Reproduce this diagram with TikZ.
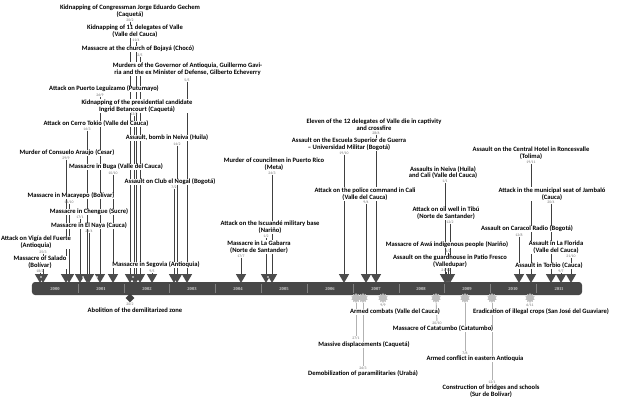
\documentclass[tikz,border=0pt]{standalone}
\usepackage{fontspec}
\setmainfont{Carlito}
\newfontfamily\yearserif{Liberation Serif}
\usetikzlibrary{shapes.geometric,backgrounds}
\newcommand{\evfont}{\fontsize{6.6}{6.9}\selectfont\bfseries}
\newcommand{\dayfont}{\fontsize{3.8}{3.8}\selectfont}
\newcommand{\yearfont}{\yearserif\fontsize{4.6}{5}\selectfont\bfseries}

\begin{document}
\begin{tikzpicture}
                                [
                                    x=1bp, y=-1bp,
                                    lbl/.style = {font=\evfont, align=center, fill=white, inner sep=0.4bp, text=black},
                                    day/.style = {font=\dayfont, text=black!55, inner sep=0.3bp},
                                    drop/.style = {regular polygon, regular polygon sides=3, shape border rotate=180, fill=black!70, inner sep=0pt, minimum size=12bp},
                                    splash/.style = {star, star points=10, star point ratio=1.5, fill=black!25, inner sep=0pt, minimum size=10bp},
                                    cut/.style = {diamond, fill=black!75, inner sep=0pt, minimum size=9bp},
                                    stem/.style = {draw=black!75, line width=0.6bp},
                                    faint/.style = {draw=black!30, line width=0.9bp},
                                    axis/.style = {fill=black!72, rounded corners=3bp, minimum width=550bp, minimum height=13bp, inner sep=0pt},
                                    year/.style = {font=\yearfont, text=black!20, inner sep=0pt},
                                ]

                                \useasboundingbox (0,0) rectangle (624,402);

                                \node[axis] (bar) at (307,288.5) {};
                                \draw[black!50, line width=0.4bp] (77.8,284) -- (77.8,293);
                                \draw[black!50, line width=0.4bp] (123.7,284) -- (123.7,293);
                                \draw[black!50, line width=0.4bp] (169.5,284) -- (169.5,293);
                                \draw[black!50, line width=0.4bp] (215.3,284) -- (215.3,293);
                                \draw[black!50, line width=0.4bp] (261.2,284) -- (261.2,293);
                                \draw[black!50, line width=0.4bp] (307,284) -- (307,293);
                                \draw[black!50, line width=0.4bp] (352.8,284) -- (352.8,293);
                                \draw[black!50, line width=0.4bp] (398.7,284) -- (398.7,293);
                                \draw[black!50, line width=0.4bp] (444.5,284) -- (444.5,293);
                                \draw[black!50, line width=0.4bp] (490.3,284) -- (490.3,293);
                                \draw[black!50, line width=0.4bp] (536.2,284) -- (536.2,293);

                                \node[year] (y00) at (55,289) {2000};
                                \node[year] (y01) at (101,289) {2001};
                                \node[year] (y02) at (147,289) {2002};
                                \node[year] (y03) at (192,289) {2003};
                                \node[year] (y04) at (238,289) {2004};
                                \node[year] (y05) at (284,289) {2005};
                                \node[year] (y06) at (330,289) {2006};
                                \node[year] (y07) at (376,289) {2007};
                                \node[year] (y08) at (421,289) {2008};
                                \node[year] (y09) at (467,289) {2009};
                                \node[year] (y10) at (513,289) {2010};
                                \node[year] (y11) at (559,289) {2011};

                                % above the line
                                \node[lbl] (gechemL) at (130,11) {Kidnapping of Congressman Jorge Eduardo Gechem\\(Caquetá)};
                                \node[day] (gechemD) at (130,20) {20/2};
                                \node[lbl] (valleL) at (135,31.5) {Kidnapping of 11 delegates of Valle\\(Valle del Cauca)};
                                \node[day] (valleD) at (136,40) {11/4};
                                \node[lbl] (bojayaL) at (138,49) {Massacre at the church of Bojayá (Chocó)};
                                \node[day] (bojayaD) at (140,55) {2/5};
                                \node[lbl] (gaviriaL) at (187.5,69) {Murders of the Governor of Antioquia, Guillermo Gavi-\\ria and the ex Minister of Defense, Gilberto Echeverry};
                                \node[day] (gaviriaD) at (187,80) {5/5};
                                \node[lbl] (leguizamoL) at (104,89) {Attack on Puerto Leguizamo (Putumayo)};
                                \node[day] (leguizamoD) at (100,95) {26/9};
                                \node[lbl] (ingridL) at (137,106) {Kidnapping of the presidential candidate\\Ingrid Betancourt (Caquetá)};
                                \node[day] (ingridD) at (134,114) {23/2};
                                \node[lbl] (tokioL) at (96,124) {Attack on Cerro Tokio (Valle del Cauca)};
                                \node[day] (tokioD) at (87,129) {16/3};
                                \node[lbl] (neivaL) at (167,138) {Assault, bomb in Neiva (Huila)};
                                \node[day] (neivaD) at (177,144) {14/2};
                                \node[lbl] (araujoL) at (67,153) {Murder of Consuelo Araujo (Cesar)};
                                \node[day] (araujoD) at (66,158) {29/9};
                                \node[lbl] (bugaL) at (116,167) {Massacre in Buga (Valle del Cauca)};
                                \node[day] (bugaD) at (113,173) {10/10};
                                \node[lbl] (nogalL) at (170,182) {Assault on Club el Nogal (Bogotá)};
                                \node[day] (nogalD) at (174,187) {7/2};
                                \node[lbl] (macayepoL) at (71,196) {Massacre in Macayepo (Bolívar)};
                                \node[day] (macayepoD) at (69,202) {14/10};
                                \node[lbl] (chengueL) at (89,212) {Massacre in Chengue (Sucre)};
                                \node[day] (chengueD) at (80,217) {17/1};
                                \node[lbl] (nayaL) at (89,226) {Massacre in El Naya (Cauca)};
                                \node[day] (nayaD) at (89,231) {24/4};
                                \node[lbl] (vigiaL) at (36,242.5) {Attack on Vigía del Fuerte\\(Antioquia)};
                                \node[day] (vigiaD) at (43,252) {25/3};
                                \node[lbl] (saladoL) at (40,262.5) {Massacre of Salado\\(Bolívar)};
                                \node[day] (saladoD) at (40,271) {18/2};
                                \node[lbl] (segoviaL) at (156,265) {Massacre in Segovia (Antioquia)};
                                \node[day] (segoviaD) at (152,271) {9/5};

                                \node[lbl] (elevenL) at (374,125) {Eleven of the 12 delegates of Valle die in captivity\\and crossfire};
                                \node[day] (elevenD) at (376,133) {28/6};
                                \node[lbl] (guerraL) at (349,144.5) {Assault on the Escuela Superior de Guerra\\-- Universidad Militar (Bogotá)};
                                \node[day] (guerraD) at (344,153) {19/10};
                                \node[lbl] (ricoL) at (274,164.5) {Murder of councilmen in Puerto Rico\\(Meta)};
                                \node[day] (ricoD) at (272,173) {24/3};
                                \node[lbl] (caliL) at (365,194) {Attack on the police command in Cali\\(Valle del Cauca)};
                                \node[day] (caliD) at (366,202) {9/4};
                                \node[lbl] (iscuandeL) at (270,227.5) {Attack on the Iscuandé military base\\(Nariño)};
                                \node[day] (iscuandeD) at (266,236) {1/2};
                                \node[lbl] (gabarraL) at (259,247) {Massacre in La Gabarra\\(Norte de Santander)};
                                \node[day] (gabarraD) at (241,256) {17/7};

                                \node[lbl] (neivacaliL) at (443,172.5) {Assaults in Neiva (Huila)\\and Cali (Valle del Cauca)};
                                \node[day] (neivacaliD) at (445,181) {1/1};
                                \node[lbl] (tibuL) at (446,213.5) {Attack on oil well in Tibú\\(Norte de Santander)};
                                \node[day] (tibuD) at (450,222) {12/2};
                                \node[lbl] (awaL) at (447,245) {Massacre of Awá indigenous people (Nariño)};
                                \node[day] (awaD) at (448,251) {4/2};
                                \node[lbl] (patioL) at (450,261.5) {Assault on the guardhouse in Patio Fresco\\(Valledupar)};
                                \node[day] (patioD) at (446,270) {21/12};
                                \node[lbl] (roncesL) at (531,153.5) {Assault on the Central Hotel in Roncesvalle\\(Tolima)};
                                \node[day] (roncesD) at (531,162) {19/11};
                                \node[lbl] (jambaloL) at (552,194) {Attack in the municipal seat of Jambaló\\(Cauca)};
                                \node[day] (jambaloD) at (551,202) {20/4};
                                \node[lbl] (caracolL) at (527,229) {Assault on Caracol Radio (Bogotá)};
                                \node[day] (caracolD) at (519,235) {12/8};
                                \node[lbl] (floridaL) at (556,247.5) {Assault in La Florida\\(Valle del Cauca)};
                                \node[day] (floridaD) at (571,256) {21/10};
                                \node[lbl] (torbioL) at (549,266) {Assault in Torbio (Cauca)};
                                \node[day] (torbioD) at (561,271) {9/7};

                                \node[drop] (saladoT) at (40,277) {};
                                \node[drop] (vigiaT) at (43,277) {};
                                \node[drop] (araujoT) at (66,277) {};
                                \node[drop] (macayepoT) at (69,277) {};
                                \node[drop] (chengueT) at (80,277) {};
                                \node[drop] (tokioT) at (87,277) {};
                                \node[drop] (nayaT) at (89,277) {};
                                \node[drop] (leguizamoT) at (100,277) {};
                                \node[drop] (bugaT) at (113,277) {};
                                \node[drop] (gechemT) at (130,277) {};
                                \node[drop] (ingridT) at (134,277) {};
                                \node[drop] (valleT) at (136,277) {};
                                \node[drop] (bojayaT) at (140,277) {};
                                \node[drop] (segoviaT) at (152,277) {};
                                \node[drop] (nogalT) at (174,277) {};
                                \node[drop] (neivaT) at (177,277) {};
                                \node[drop] (gaviriaT) at (187,277) {};
                                \node[drop] (gabarraT) at (241,277) {};
                                \node[drop] (iscuandeT) at (266,277) {};
                                \node[drop] (ricoT) at (272,277) {};
                                \node[drop] (guerraT) at (344,277) {};
                                \node[drop] (caliT) at (366,277) {};
                                \node[drop] (elevenT) at (376,277) {};
                                \node[drop] (neivacaliT) at (445,277) {};
                                \node[drop] (patioT) at (446,277) {};
                                \node[drop] (awaT) at (448,277) {};
                                \node[drop] (tibuT) at (450,277) {};
                                \node[drop] (caracolT) at (519,277) {};
                                \node[drop] (roncesT) at (531,277) {};
                                \node[drop] (jambaloT) at (551,277) {};
                                \node[drop] (torbioT) at (561,277) {};
                                \node[drop] (floridaT) at (571,277) {};

                                \fill[white] (41,277) circle (0.8bp);
                                \fill[white] (83,277) circle (0.8bp);
                                \fill[white] (97,277) circle (0.8bp);
                                \fill[white] (133,277) circle (0.8bp);
                                \fill[white] (268,277) circle (0.8bp);

                                % below the line
                                \node[cut] (zoneT) at (130,298) {};
                                \node[day] (zoneD) at (130,304) {20/2};
                                \node[lbl] (zoneL) at (135,310.5) {Abolition of the demilitarized zone};

                                \node[splash] (displacedS) at (356,298) {};
                                \node[splash] (demobS) at (363,298) {};
                                \node[splash] (combatsS) at (383,298) {};
                                \node[splash] (catatumboS) at (436,298) {};
                                \node[splash] (antioquiaS) at (465,298) {};
                                \node[splash] (bridgesS) at (492,298) {};
                                \node[splash] (cropsS) at (530,298) {};

                                \node[day] (combatsD) at (383,305) {9/9};
                                \node[lbl] (combatsL) at (395,312) {Armed combats (Valle del Cauca)};
                                \node[day] (catatumboD) at (437,323) {20/10};
                                \node[lbl] (catatumboL) at (443,329) {Massacre of Catatumbo (Catatumbo)};
                                \node[day] (displacedD) at (356,338) {27/1};
                                \node[lbl] (displacedL) at (364,345) {Massive displacements (Caquetá)};
                                \node[day] (antioquiaD) at (465,353) {7/6};
                                \node[lbl] (antioquiaL) at (475,359) {Armed conflict in eastern Antioquia};
                                \node[day] (demobD) at (363,368) {26/3};
                                \node[lbl] (demobL) at (363,373.5) {Demobilization of paramilitaries (Urabá)};
                                \node[day] (bridgesD) at (492,382) {12/1};
                                \node[lbl] (bridgesL) at (491,391) {Construction of bridges and schools\\(Sur de Bolívar)};
                                \node[day] (cropsD) at (530,305) {6/11};
                                \node[lbl] (cropsL) at (541,312) {Eradication of illegal crops (San José del Guaviare)};

                                \begin{pgfonlayer}{background}
                                \draw [stem] (gechemD) -- (gechemT);
                                \draw [stem] (valleD) -- (valleT);
                                \draw [stem] (bojayaD) -- (bojayaT);
                                \draw [stem] (gaviriaD) -- (gaviriaT);
                                \draw [stem] (leguizamoD) -- (leguizamoT);
                                \draw [stem] (ingridD) -- (ingridT);
                                \draw [stem] (tokioD) -- (tokioT);
                                \draw [stem] (neivaD) -- (neivaT);
                                \draw [stem] (araujoD) -- (araujoT);
                                \draw [stem] (bugaD) -- (bugaT);
                                \draw [stem] (nogalD) -- (nogalT);
                                \draw [stem] (macayepoD) -- (macayepoT);
                                \draw [stem] (chengueD) -- (chengueT);
                                \draw [stem] (nayaD) -- (nayaT);
                                \draw [stem] (vigiaD) -- (vigiaT);
                                \draw [stem] (saladoD) -- (saladoT);
                                \draw [stem] (segoviaD) -- (segoviaT);
                                \draw [stem] (elevenD) -- (elevenT);
                                \draw [stem] (guerraD) -- (guerraT);
                                \draw [stem] (ricoD) -- (ricoT);
                                \draw [stem] (caliD) -- (caliT);
                                \draw [stem] (iscuandeD) -- (iscuandeT);
                                \draw [stem] (gabarraD) -- (gabarraT);
                                \draw [stem] (neivacaliD) -- (neivacaliT);
                                \draw [stem] (tibuD) -- (tibuT);
                                \draw [stem] (awaD) -- (awaT);
                                \draw [stem] (patioD) -- (patioT);
                                \draw [stem] (roncesD) -- (roncesT);
                                \draw [stem] (jambaloD) -- (jambaloT);
                                \draw [stem] (caracolD) -- (caracolT);
                                \draw [stem] (floridaD) -- (floridaT);
                                \draw [stem] (torbioD) -- (torbioT);

                                \draw [faint] (catatumboS) -- (catatumboD);
                                \draw [faint] (displacedS) -- (displacedD);
                                \draw [faint] (antioquiaS) -- (antioquiaD);
                                \draw [faint] (demobS) -- (demobD);
                                \draw [faint] (bridgesS) -- (bridgesD);
                                \end{pgfonlayer}

                            \end{tikzpicture}
\end{document}
